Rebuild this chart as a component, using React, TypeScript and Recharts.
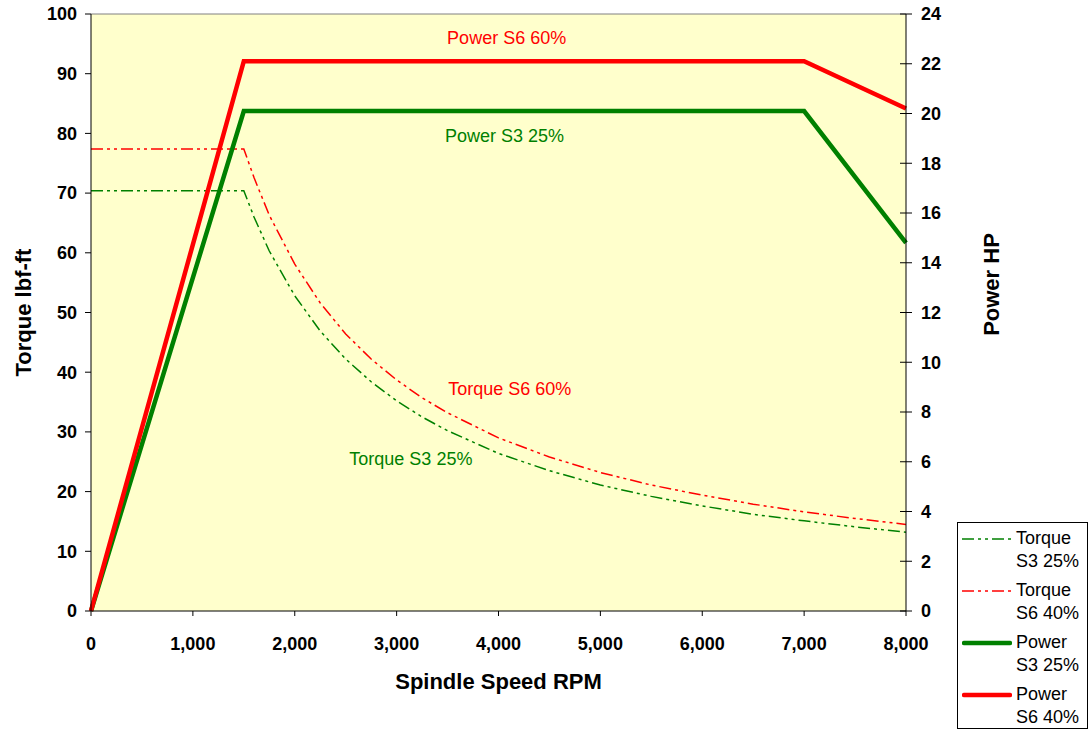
import React from 'react';
import {
  ComposedChart,
  Line,
  XAxis,
  YAxis,
  CartesianGrid,
  ReferenceLine,
  ReferenceDot,
  Legend,
} from 'recharts';

// ---- data ----
const rpmTorque = [0, 1500, 1600, 1750, 2000, 2250, 2500, 2750, 3000, 3250, 3500, 4000, 4500, 5000, 5500, 6000, 6500, 7000, 7500, 8000];
const torqueS3 = [70.4, 70.4, 66.0, 60.3, 52.8, 46.9, 42.2, 38.4, 35.2, 32.5, 30.2, 26.4, 23.5, 21.1, 19.2, 17.6, 16.2, 15.1, 14.1, 13.2];
const torqueS6 = [77.4, 77.4, 72.6, 66.3, 58.1, 51.6, 46.4, 42.2, 38.7, 35.7, 33.2, 29.0, 25.8, 23.2, 21.1, 19.4, 17.9, 16.6, 15.5, 14.5];

const rpmPower = [0, 1500, 7000, 8000];
const powerS3 = [0, 20.1, 20.1, 14.8];
const powerS6 = [0, 22.1, 22.1, 20.2];

const xTicks = [0, 1000, 2000, 3000, 4000, 5000, 6000, 7000, 8000];
const leftTicks = [0, 10, 20, 30, 40, 50, 60, 70, 80, 90, 100];
const rightTicks = [0, 2, 4, 6, 8, 10, 12, 14, 16, 18, 20, 22, 24];

const seriesNames = ['Torque S3 25%', 'Torque S6 40%', 'Power S3 25%', 'Power S6 40%'];

// in-plot annotations
const annotations = [
  { text: 'Power S6 60%', x: 4080, y: 23.05, axis: 'right', color: '#FF0000' },
  { text: 'Power S3 25%', x: 4060, y: 19.1, axis: 'right', color: '#008000' },
  { text: 'Torque S6 60%', x: 4110, y: 37.3, axis: 'left', color: '#FF0000' },
  { text: 'Torque S3 25%', x: 3140, y: 25.5, axis: 'left', color: '#008000' },
];

const torqueS3Data = rpmTorque.map((r, i) => ({ rpm: r, v: torqueS3[i] }));
const torqueS6Data = rpmTorque.map((r, i) => ({ rpm: r, v: torqueS6[i] }));
const powerS3Data = rpmPower.map((r, i) => ({ rpm: r, v: powerS3[i] }));
const powerS6Data = rpmPower.map((r, i) => ({ rpm: r, v: powerS6[i] }));

const FONT = '"Liberation Sans", Arial, Helvetica, sans-serif';
const DASH = '12 4 3 4 3 4';
const RED = '#FF0000';
const GREEN = '#008000';

const RightTick = (props: any) => {
  const { x, y, payload } = props;
  const ax = x - 15;
  return (
    <g>
      <line x1={ax - 6} x2={ax + 6} y1={y} y2={y} stroke="#000" strokeWidth={1} />
      <text
        x={x}
        y={y}
        dy="0.35em"
        textAnchor="start"
        fontFamily={FONT}
        fontWeight="bold"
        fontSize={18}
        fill="#000"
      >
        {payload.value}
      </text>
    </g>
  );
};

const LeftTitle = (props: any) => {
  const vb = props.viewBox || { x: 31, y: 14, width: 60, height: 597 };
  const cx = vb.x - 8;
  const cy = vb.y + vb.height / 2;
  return (
    <text
      x={cx}
      y={cy}
      dy="0.35em"
      textAnchor="middle"
      transform={`rotate(-90, ${cx}, ${cy})`}
      fontFamily={FONT}
      fontWeight="bold"
      fontSize={22}
      fill="#000"
    >
      Torque lbf-ft
    </text>
  );
};

const RightTitle = (props: any) => {
  const vb = props.viewBox || { x: 906, y: 14, width: 60, height: 597 };
  const cx = vb.x + vb.width + 25;
  const cy = vb.y + vb.height / 2 - 28;
  return (
    <text
      x={cx}
      y={cy}
      dy="0.35em"
      textAnchor="middle"
      transform={`rotate(-90, ${cx}, ${cy})`}
      fontFamily={FONT}
      fontWeight="bold"
      fontSize={22}
      fill="#000"
    >
      Power HP
    </text>
  );
};

const BottomTitle = (props: any) => {
  const vb = props.viewBox || { x: 91, y: 611, width: 815, height: 60 };
  const cx = vb.x + vb.width / 2;
  const cy = vb.y + vb.height + 10;
  return (
    <text
      x={cx}
      y={cy}
      dy="0.35em"
      textAnchor="middle"
      fontFamily={FONT}
      fontWeight="bold"
      fontSize={22}
      fill="#000"
    >
      Spindle Speed RPM
    </text>
  );
};

const LegendContent = (props: any) => {
  const raw = props.payload || [];
  const payload = [...raw].sort(
    (a: any, b: any) => seriesNames.indexOf(String(a.value)) - seriesNames.indexOf(String(b.value))
  );
  return (
    <div
      style={{
        border: '1px solid #000',
        background: '#fff',
        boxSizing: 'border-box',
        width: 131,
        height: 207,
        padding: '4px 4px 0 4px',
        fontFamily: FONT,
        fontSize: 18,
        lineHeight: '23px',
        color: '#000',
      }}
    >
      {payload.map((entry: any, i: number) => {
        const name = String(entry.value);
        const idx = name.indexOf(' ');
        const l1 = name.slice(0, idx);
        const l2 = name.slice(idx + 1);
        const p = entry.payload || {};
        const sw = p.strokeWidth || 1.5;
        return (
          <div key={i} style={{ display: 'flex', marginBottom: 6 }}>
            <svg width={50} height={23} style={{ flex: '0 0 auto', marginRight: 4 }}>
              <line
                x1={sw > 2 ? 2 : 0}
                x2={sw > 2 ? 48 : 50}
                y1={12}
                y2={12}
                stroke={entry.color}
                strokeWidth={sw}
                strokeLinecap={sw > 2 ? 'round' : 'butt'}
                strokeDasharray={p.strokeDasharray}
              />
            </svg>
            <div>
              <div>{l1}</div>
              <div>{l2}</div>
            </div>
          </div>
        );
      })}
    </div>
  );
};

export default function App() {
  return (
    <div style={{ position: 'absolute', left: 0, top: 0, width: 1089, height: 731, background: '#fff' }}>
      <ComposedChart
        width={1089}
        height={731}
        margin={{ top: 14, right: 123, bottom: 60, left: 31 }}
      >
        <CartesianGrid fill="#FFFFCC" stroke="none" horizontal={false} vertical={false} />
        <XAxis
          dataKey="rpm"
          type="number"
          domain={[0, 8000]}
          ticks={xTicks}
          allowDuplicatedCategory={false}
          tickFormatter={(v: number) => v.toLocaleString('en-US')}
          height={60}
          tickSize={5}
          tickMargin={21}
          stroke="#000"
          tick={{ fill: '#000', fontFamily: FONT, fontWeight: 'bold', fontSize: 18 }}
          label={BottomTitle}
        />
        <YAxis
          yAxisId="left"
          orientation="left"
          domain={[0, 100]}
          ticks={leftTicks}
          width={60}
          tickSize={6}
          tickMargin={8}
          stroke="#000"
          tick={{ fill: '#000', fontFamily: FONT, fontWeight: 'bold', fontSize: 18 }}
          label={LeftTitle}
        />
        <YAxis
          yAxisId="right"
          orientation="right"
          domain={[0, 24]}
          ticks={rightTicks}
          width={60}
          tickSize={6}
          tickMargin={9}
          tickLine={false}
          stroke="#000"
          tick={RightTick}
          label={RightTitle}
        />
        <ReferenceLine yAxisId="left" y={100} stroke="#808080" strokeWidth={1} />
        <Line
          yAxisId="left"
          data={torqueS3Data}
          dataKey="v"
          name={seriesNames[0]}
          type="linear"
          stroke={GREEN}
          strokeWidth={1.5}
          strokeDasharray={DASH}
          dot={false}
          activeDot={false}
          isAnimationActive={false}
        />
        <Line
          yAxisId="left"
          data={torqueS6Data}
          dataKey="v"
          name={seriesNames[1]}
          type="linear"
          stroke={RED}
          strokeWidth={1.5}
          strokeDasharray={DASH}
          dot={false}
          activeDot={false}
          isAnimationActive={false}
        />
        <Line
          yAxisId="right"
          data={powerS3Data}
          dataKey="v"
          name={seriesNames[2]}
          type="linear"
          stroke={GREEN}
          strokeWidth={4.5}
          dot={false}
          activeDot={false}
          isAnimationActive={false}
        />
        <Line
          yAxisId="right"
          data={powerS6Data}
          dataKey="v"
          name={seriesNames[3]}
          type="linear"
          stroke={RED}
          strokeWidth={4.5}
          dot={false}
          activeDot={false}
          isAnimationActive={false}
        />
        {annotations.map((a, i) => (
          <ReferenceDot
            key={i}
            yAxisId={a.axis}
            x={a.x}
            y={a.y}
            r={1}
            fill="none"
            stroke="none"
            label={{
              value: a.text,
              position: 'center',
              fill: a.color,
              fontSize: 18,
              fontFamily: FONT,
            }}
          />
        ))}
        <Legend
          layout="horizontal"
          verticalAlign="middle"
          align="center"
          content={LegendContent}
          wrapperStyle={{ position: 'absolute', left: 957, top: 522, width: 131, height: 207 }}
        />
      </ComposedChart>
    </div>
  );
}
